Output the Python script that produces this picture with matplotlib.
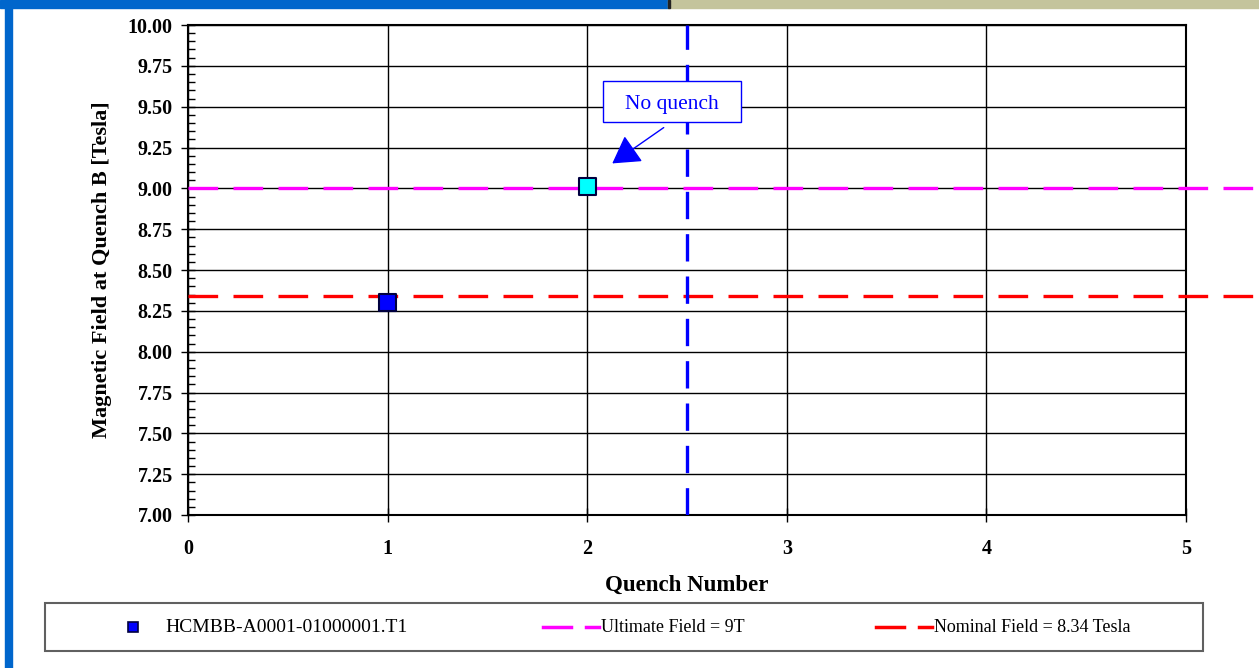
import numpy as np
import matplotlib.pyplot as plt
from matplotlib.lines import Line2D
from matplotlib.patches import Rectangle, FancyArrowPatch
from matplotlib.ticker import MultipleLocator

# data
quench = [1, 2]
field = [8.30, 9.01]
point_colors = ['#0000ff', '#00ffff']
ultimate = 9.0
nominal = 8.34
training_limit = 2.5
series_name = 'HCMBB-A0001-01000001.T1'
ultimate_label = 'Ultimate Field = 9T'
nominal_label = 'Nominal Field = 8.34 Tesla'

plt.rcParams['font.family'] = ['Liberation Serif', 'DejaVu Serif']

W, H = 1259, 668
fig = plt.figure(figsize=(W / 100, H / 100), dpi=100)


def fx(px):
    return px / W


def fy(py):
    return 1 - py / H


# frame bars of the slide
fig.patches.append(Rectangle((0, fy(8)), fx(668), 8 / H, transform=fig.transFigure, color='#0066cc', zorder=0))
fig.patches.append(Rectangle((fx(668), fy(8)), 1 - fx(668), 8 / H, transform=fig.transFigure, color='#c4c49c', zorder=0))
fig.patches.append(Rectangle((fx(668), fy(8)), fx(2), 8 / H, transform=fig.transFigure, color='#222222', zorder=1))
fig.patches.append(Rectangle((fx(5), 0), fx(7), 1, transform=fig.transFigure, color='#0066cc', zorder=0))

ax = fig.add_axes([fx(188), fy(515), fx(998), 490 / H])

lw = 2.4
ax.axhline(ultimate, xmin=0, xmax=1.08, color='#ff00ff', lw=lw, dashes=(8.9, 4.6), clip_on=False, zorder=3)
ax.axhline(nominal, xmin=0, xmax=1.08, color='#ff0000', lw=lw, dashes=(8.9, 4.6), clip_on=False, zorder=3)
ax.axvline(training_limit, color='#0000ff', lw=2.4, dashes=(8.2, 4.5), zorder=3)

ax.scatter(quench, field, marker='s', s=150, c=point_colors, edgecolors='#000040',
           linewidths=1.5, zorder=5, clip_on=False)

ax.set_xlim(0, 5)
ax.set_ylim(7, 10)
ax.xaxis.set_major_locator(MultipleLocator(1))
ax.yaxis.set_major_locator(MultipleLocator(0.25))
ax.yaxis.set_minor_locator(MultipleLocator(0.05))
ax.grid(True, which='major', color='black', lw=1.0)
ax.tick_params(axis='both', which='major', direction='inout', length=10, width=1, labelsize=14.5)
ax.tick_params(axis='y', which='minor', direction='in', length=5, width=1)
ax.tick_params(axis='x', pad=12)
ax.tick_params(axis='y', pad=6)
for lab in ax.get_xticklabels() + ax.get_yticklabels():
    lab.set_fontweight('bold')
ax.yaxis.set_major_formatter(plt.FuncFormatter(lambda v, p: f'{v:.2f}'))
for s in ax.spines.values():
    s.set_linewidth(1.5)

ax.set_xlabel('Quench Number', fontsize=16.5, fontweight='bold', labelpad=12)
ax.set_ylabel('Magnetic Field at Quench B [Tesla]', fontsize=16, fontweight='bold', labelpad=11)

# "No quench" callout
ax.add_patch(Rectangle(((603 - 188) / 998, (515 - 122) / 490), 138 / 998, 41 / 490,
                       transform=ax.transAxes, fc='white', ec='#0000ff', lw=1, zorder=6))
ax.text((672 - 188) / 998, (515 - 104) / 490, 'No quench', transform=ax.transAxes,
        ha='center', va='center', fontsize=15.5, color='#0000ff', zorder=7)
ax.add_patch(FancyArrowPatch(((666 - 188) / 998, (515 - 126) / 490), ((610 - 188) / 998, (515 - 165) / 490),
                             transform=ax.transAxes, arrowstyle='-|>,head_length=0.85,head_width=0.5',
                             mutation_scale=20, color='#0000ff', lw=1, zorder=7))

# legend box drawn on the figure
fig.patches.append(Rectangle((fx(45), fy(651)), fx(1158), 48 / H, transform=fig.transFigure,
                             fc='white', ec='#606060', lw=1.5, zorder=2))
ly = fy(627)
fig.add_artist(Line2D([fx(133)], [ly], marker='s', ms=7.5, color='#0000ff', mec='#000040', mew=1.2,
                      transform=fig.transFigure, zorder=3))
fig.text(fx(165), ly, series_name, fontsize=14, va='center', ha='left', zorder=3)
for x0, col, lab in [(543, '#ff00ff', ultimate_label), (876, '#ff0000', nominal_label)]:
    fig.add_artist(Line2D([fx(x0), fx(x0 + 28)], [ly, ly], color=col, lw=2.5, transform=fig.transFigure, zorder=3))
    fig.add_artist(Line2D([fx(x0 + 43), fx(x0 + 56)], [ly, ly], color=col, lw=2.5, transform=fig.transFigure, zorder=3))
    fig.text(fx(x0 + 58), ly, lab, fontsize=13, va='center', ha='left', zorder=3)

fig.savefig('out.png', dpi=100)
